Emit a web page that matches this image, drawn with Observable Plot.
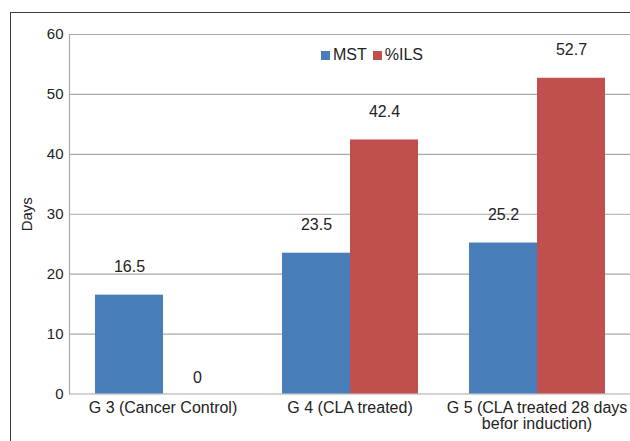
<!DOCTYPE html>
<html>
<head>
<meta charset="utf-8">
<script src="https://cdn.jsdelivr.net/npm/d3@7"></script>
<script src="https://cdn.jsdelivr.net/npm/@observablehq/plot@0.6"></script>
<style>
  body { margin: 0; background: #fff; }
  #wrap { position: relative; width: 630px; height: 441px; overflow: hidden;
          font-family: "Liberation Sans", Arial, sans-serif; color: #222; }
  #border { position: absolute; left: 10px; top: 12px; width: 700px; height: 500px;
            border-left: 1.5px solid #3c3c3c; border-top: 1.5px solid #3c3c3c; }
  #chart { position: absolute; left: 0; top: 0; }
  #legend { position: absolute; left: 321px; top: 45px; display: flex; align-items: center;
            font-size: 16px; line-height: 20px; }
  #legend .item { display: flex; align-items: center; margin-right: 6px; }
  #legend .swatch { width: 9px; height: 9px; margin-right: 3px; }
</style>
</head>
<body>
<div id="wrap">
  <div id="border"></div>
  <div id="chart"></div>
  <div id="legend"></div>
</div>
<script>
// Groups along the bottom, with their display labels
const groups = ["G 3", "G 4", "G 5"];
const groupLabels = ["G 3 (Cancer Control)", "G 4 (CLA treated)", "G 5 (CLA treated 28 days\nbefor induction)"];

// Series and their values per group
const series = ["MST", "%ILS"];
const mstValues = [16.5, 23.5, 25.2];
const ilsValues = [0, 42.4, 52.7];
const seriesColors = ["#4a7ebb", "#c0504d"];

// Vertical axis
const yTicks = [0, 10, 20, 30, 40, 50, 60];
const yLabel = "Days";

const rows = groups.flatMap((g, i) => [
  {group: g, series: series[0], value: mstValues[i]},
  {group: g, series: series[1], value: ilsValues[i]}
]);

const labelled = rows.filter(d => d.value > 0);
const zeroRows = rows.filter(d => d.value === 0);

const chart = Plot.plot({
  width: 630,
  height: 441,
  marginLeft: 69,
  marginRight: 0,
  marginTop: 34,
  marginBottom: 47.5,
  style: {fontFamily: "Liberation Sans, Arial, sans-serif", fontSize: "16px", color: "#222", background: "transparent"},
  fx: {domain: groups, padding: 0, label: null},
  x: {domain: series, paddingInner: 0, paddingOuter: 0.365, axis: null},
  y: {domain: [0, 60], axis: null},
  color: {domain: series, range: seriesColors},
  marks: [
    Plot.gridY({ticks: yTicks, stroke: "#a8a8a8", strokeOpacity: 1, strokeWidth: 1.2}),
    Plot.frame({anchor: "left", facetAnchor: "left", stroke: "#a8a8a8", strokeWidth: 1.2}),
    Plot.axisY({ticks: yTicks, tickSize: 0, tickPadding: 6, fontSize: 15,
                label: yLabel, labelAnchor: "center", labelOffset: 48, labelArrow: false}),
    Plot.axisFx({anchor: "bottom", tickSize: 0, tickPadding: 8, label: null,
                 tickFormat: g => groupLabels[groups.indexOf(g)]}),
    Plot.barY(rows, {fx: "group", x: "series", y: "value", fill: "series"}),
    Plot.text(labelled, {fx: "group", x: "series", y: "value", text: d => String(d.value), dy: -28}),
    Plot.text(zeroRows, {fx: "group", x: "series", y: "value", text: d => String(d.value), dy: -16})
  ]
});
document.getElementById("chart").appendChild(chart);

// Legend drawn inside the plot area
const legend = document.getElementById("legend");
series.forEach((s, i) => {
  const item = document.createElement("div");
  item.className = "item";
  const sw = document.createElement("div");
  sw.className = "swatch";
  sw.style.background = seriesColors[i];
  const tx = document.createElement("span");
  tx.textContent = s;
  item.appendChild(sw);
  item.appendChild(tx);
  legend.appendChild(item);
});
</script>
</body>
</html>
